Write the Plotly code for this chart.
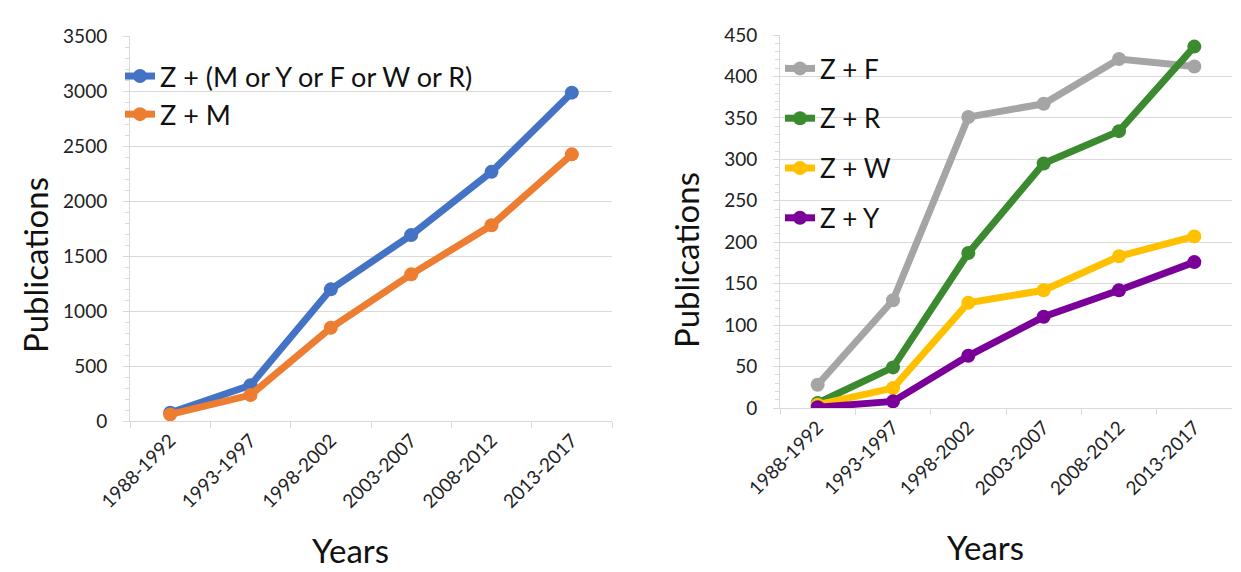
import plotly.graph_objects as go

categories = ["1988-1992", "1993-1997", "1998-2002", "2003-2007", "2008-2012", "2013-2017"]

# Left chart
z_any = [75, 325, 1197, 1690, 2265, 2985]
z_m = [60, 236, 848, 1333, 1779, 2424]

# Right chart
z_f = [28, 130, 351, 367, 421, 412]
z_r = [6, 49, 187, 295, 334, 436]
z_w = [4, 24, 127, 142, 183, 207]
z_y = [1, 8, 63, 110, 142, 176]

FONT = "Lato, 'Open Sans', sans-serif"
OFF = 8  # default page body margin
W, H = 1241 - OFF, 572 - OFF

fig = go.Figure()

def add(x, y, name, color, xa, ya, legend):
    fig.add_trace(go.Scatter(
        x=x, y=y, name=name, mode="lines+markers",
        line=dict(color=color, width=7),
        marker=dict(color=color, size=14),
        xaxis=xa, yaxis=ya, legend=legend, legendgroup=name,
    ))

add(categories, z_any, "Z + (M or Y or F or W or R)", "#4472C4", "x", "y", "legend")
add(categories, z_m, "Z + M", "#ED7D31", "x", "y", "legend")
add(categories, z_f, "Z + F", "#A5A5A5", "x2", "y2", "legend2")
add(categories, z_r, "Z + R", "#3B8A2F", "x2", "y2", "legend2")
add(categories, z_w, "Z + W", "#FFC000", "x2", "y2", "legend2")
add(categories, z_y, "Z + Y", "#7A0099", "x2", "y2", "legend2")

grid = "#D9D9D9"

def fx(px):
    return (px - OFF) / W

def fy(px):
    return (H - (px - OFF)) / H

def px_x(a, b):
    return [fx(a), fx(b)]

def px_y(top, bottom):
    return [fy(bottom), fy(top)]

xcommon = dict(
    type="category", tickson="boundaries", ticks="outside", ticklen=6,
    tickcolor=grid, showline=True, linecolor=grid, linewidth=1,
    showgrid=False, tickangle=-45, automargin=False,
    tickfont=dict(family=FONT, size=19, color="#222"),
    range=[-0.5, 5.5],
)

ycommon = dict(
    showgrid=True, gridcolor=grid, gridwidth=1, showline=True, linecolor=grid,
    ticks="outside", ticklen=6, tickcolor=grid, zeroline=False, automargin=False,
    tickfont=dict(family=FONT, size=19, color="#222"), ticklabelstandoff=12,
)

title_font = dict(family=FONT, size=33, color="#111")

annotations = [
    dict(text="Publications", x=fx(35), y=fy(265), textangle=-90, xref="paper", yref="paper",
         showarrow=False, font=title_font, xanchor="center", yanchor="middle"),
    dict(text="Years", x=fx(351), y=fy(550), xref="paper", yref="paper",
         showarrow=False, font=title_font, xanchor="center", yanchor="middle"),
    dict(text="Publications", x=fx(686), y=fy(260), textangle=-90, xref="paper", yref="paper",
         showarrow=False, font=title_font, xanchor="center", yanchor="middle"),
    dict(text="Years", x=fx(985), y=fy(547), xref="paper", yref="paper",
         showarrow=False, font=title_font, xanchor="center", yanchor="middle"),
]

# white boxes behind legends (hide gridlines like the original chart)
shapes = [
    dict(type="rect", xref="paper", yref="paper", layer="between",
         x0=fx(131), x1=fx(490), y0=fy(52), y1=fy(128),
         fillcolor="white", line=dict(width=0)),
    dict(type="rect", xref="paper", yref="paper", layer="between",
         x0=fx(781), x1=fx(902), y0=fy(45), y1=fy(236),
         fillcolor="white", line=dict(width=0)),
]

fig.update_layout(
    width=W, height=H,
    margin=dict(l=0, r=0, t=0, b=0),
    paper_bgcolor="white", plot_bgcolor="white",
    showlegend=True,
    annotations=annotations,
    shapes=shapes,
    xaxis=dict(domain=px_x(130, 612), anchor="y", **xcommon),
    yaxis=dict(domain=px_y(36, 421), anchor="x", range=[0, 3500], dtick=500,
               minor=dict(ticks="outside", ticklen=4, tickcolor=grid, dtick=100, showgrid=False),
               **ycommon),
    xaxis2=dict(domain=px_x(780, 1232), anchor="y2", **xcommon),
    yaxis2=dict(domain=px_y(35, 408), anchor="x2", range=[0, 450], dtick=50,
                minor=dict(ticks="outside", ticklen=4, tickcolor=grid, dtick=10, showgrid=False),
                **ycommon),
    legend=dict(x=fx(120), y=fy(52), xanchor="left", yanchor="top",
                bgcolor="rgba(0,0,0,0)", font=dict(family=FONT, size=27, color="#111"),
                itemwidth=30, tracegroupgap=0),
    legend2=dict(x=fx(780), y=fy(45), xanchor="left", yanchor="top",
                 bgcolor="rgba(0,0,0,0)", font=dict(family=FONT, size=26, color="#111"),
                 itemwidth=30, tracegroupgap=13),
)

fig.write_html("out.html")
